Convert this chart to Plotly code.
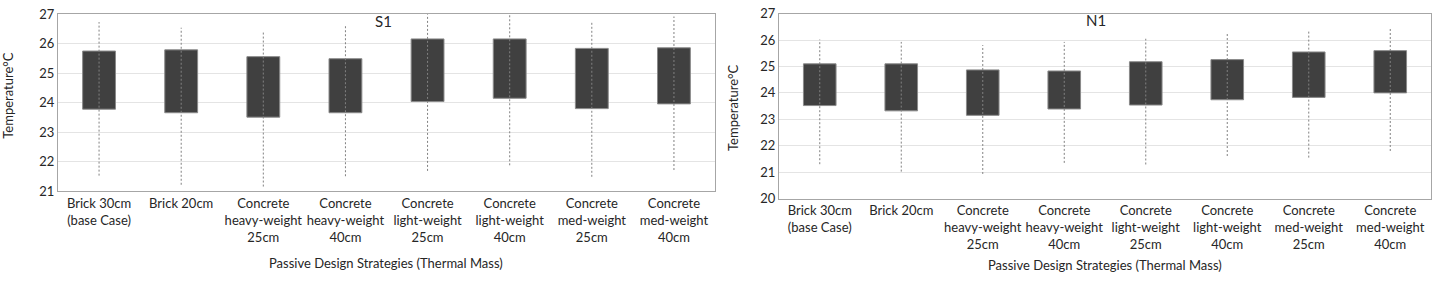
import plotly.graph_objects as go

categories = ["Brick 30cm<br>(base Case)", "Brick 20cm", "Concrete<br>heavy-weight<br>25cm",
              "Concrete<br>heavy-weight<br>40cm", "Concrete<br>light-weight<br>25cm",
              "Concrete<br>light-weight<br>40cm", "Concrete<br>med-weight<br>25cm",
              "Concrete<br>med-weight<br>40cm"]

# S1 panel
s1_min = [21.53, 21.22, 21.16, 21.51, 21.69, 21.88, 21.49, 21.72]
s1_q1 = [23.78, 23.66, 23.51, 23.66, 24.04, 24.15, 23.80, 23.96]
s1_q3 = [25.75, 25.79, 25.56, 25.49, 26.16, 26.16, 25.84, 25.86]
s1_max = [26.73, 26.54, 26.44, 26.62, 27.0, 27.0, 26.71, 26.92]

# N1 panel
n1_min = [21.30, 21.02, 20.93, 21.35, 21.29, 21.61, 21.55, 21.80]
n1_q1 = [23.52, 23.32, 23.15, 23.39, 23.54, 23.74, 23.83, 24.00]
n1_q3 = [25.10, 25.10, 24.87, 24.83, 25.18, 25.26, 25.55, 25.60]
n1_max = [26.02, 25.93, 25.81, 25.93, 26.05, 26.24, 26.32, 26.46]

W, H = 1439, 282
FONT = "Lato"
TXT = "#262626"

fig = go.Figure()


def add_panel(mins, q1, q3, maxs, xa, ya):
    xs, ys = [], []
    for c, lo, hi in zip(categories, mins, maxs):
        xs += [c, c, None]
        ys += [lo, hi, None]
    fig.add_trace(go.Scatter(x=xs, y=ys, mode="lines", xaxis=xa, yaxis=ya,
                             line=dict(color="#808080", width=1, dash="2px,2px"),
                             showlegend=False, hoverinfo="skip"))
    fig.add_trace(go.Bar(x=categories, y=[b - a for a, b in zip(q1, q3)], base=q1,
                         xaxis=xa, yaxis=ya, width=0.4,
                         marker=dict(color="#404040", line=dict(color="#8a8a8a", width=1)),
                         showlegend=False))


add_panel(s1_min, s1_q1, s1_q3, s1_max, "x", "y")
add_panel(n1_min, n1_q1, n1_q3, n1_max, "x2", "y2")


def px_x(v):
    return v / W


def px_y(v):
    return 1 - v / H


axis_common = dict(showline=True, linecolor="#a6a6a6", linewidth=1, mirror=True,
                   tickfont=dict(family=FONT, size=13, color=TXT), ticks="",
                   ticklabeloverflow="allow")

fig.update_layout(
    width=W, height=H, margin=dict(l=0, r=0, t=0, b=0),
    paper_bgcolor="white", plot_bgcolor="white", bargap=0.6,
    font=dict(family=FONT, color=TXT),
    xaxis=dict(domain=[px_x(58), px_x(715)], anchor="y", showgrid=False, **axis_common),
    yaxis=dict(domain=[px_y(194.3), px_y(6.5)], anchor="x", range=[21, 27], dtick=1,
               showgrid=True, gridcolor="#e4e4e4", gridwidth=1, **axis_common),
    xaxis2=dict(domain=[px_x(779), px_x(1431)], anchor="y2", showgrid=False, **axis_common),
    yaxis2=dict(domain=[px_y(202), px_y(6)], anchor="x2", range=[20, 27], dtick=1,
                showgrid=True, gridcolor="#e4e4e4", gridwidth=1, **axis_common),
)

ann = [
    dict(text="S1", x=px_x(383), y=px_y(14), font=dict(size=15)),
    dict(text="N1", x=px_x(1096), y=px_y(13), font=dict(size=15)),
    dict(text="Temperature°C", x=px_x(8), y=px_y(93), textangle=-90, font=dict(size=13)),
    dict(text="Temperature°C", x=px_x(733), y=px_y(106), textangle=-90, font=dict(size=13)),
    dict(text="Passive Design Strategies (Thermal Mass)", x=px_x(386), y=px_y(270), font=dict(size=13)),
    dict(text="Passive Design Strategies (Thermal Mass)", x=px_x(1105), y=px_y(272), font=dict(size=13)),
]
for a in ann:
    a.update(xref="paper", yref="paper", showarrow=False, xanchor="center", yanchor="middle")
    a["font"].update(family=FONT, color=TXT)
fig.update_layout(annotations=ann)

fig.write_html("out.html", config={"displayModeBar": False},
               post_script="document.body.style.margin='0px';document.body.style.overflow='hidden';")
